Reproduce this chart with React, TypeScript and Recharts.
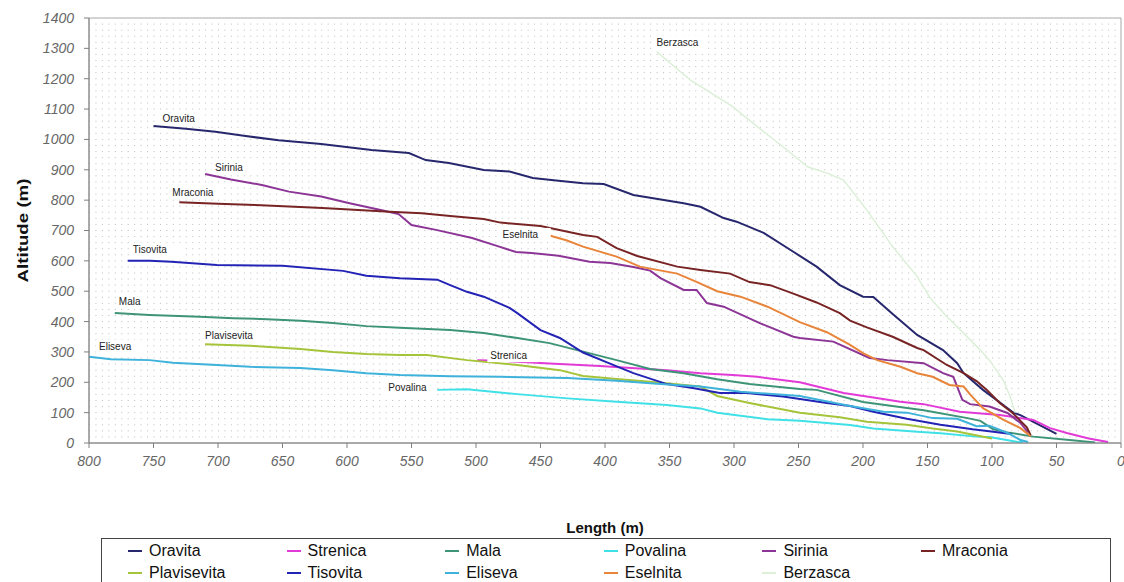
import React from 'react';
import { LineChart, Line, XAxis, YAxis, CartesianGrid, Legend, LabelList, ReferenceArea, Label } from 'recharts';

// ---- Data (length in m, altitude in m) ----
const oravita: [number, number][] = [[750,1044],[725,1035],[702,1025],[680,1012],[653,997],[620,985],[581,965],[552,955],[539,932],[521,922],[494,899],[474,894],[456,873],[436,864],[417,856],[401,853],[378,817],[339,790],[326,778],[308,741],[298,729],[277,692],[254,630],[236,581],[218,520],[200,482],[192,481],[177,425],[158,356],[138,306],[127,263],[122,230],[107,175],[83,99],[78,92],[50,30]];
const strenica: [number, number][] = [[499,273],[481,271],[443,262],[404,254],[352,240],[326,230],[301,224],[282,218],[249,200],[215,165],[192,150],[171,136],[153,128],[125,103],[94,92],[68,76],[55,49],[42,33],[25,15],[10,3]];
const mala: [number, number][] = [[780,428],[753,422],[714,416],[688,411],[662,408],[636,403],[611,395],[585,385],[559,380],[520,372],[494,362],[468,346],[443,329],[417,301],[391,273],[365,244],[339,230],[313,210],[288,194],[249,178],[236,175],[200,135],[153,108],[119,82],[109,73],[99,45],[88,35],[68,21],[40,10],[20,2]];
const povalina: [number, number][] = [[530,175],[507,177],[468,161],[429,147],[391,136],[352,125],[326,114],[313,100],[274,78],[249,73],[210,59],[192,48],[158,37],[140,32],[112,21],[102,20],[81,4],[76,3]];
const sirinia: [number, number][] = [[710,886],[690,868],[666,850],[645,828],[620,812],[598,790],[573,767],[560,754],[550,718],[531,702],[503,675],[482,647],[469,629],[457,626],[436,617],[412,597],[396,593],[378,580],[365,568],[357,543],[339,504],[329,504],[321,461],[308,449],[280,395],[254,350],[249,346],[223,334],[195,280],[181,273],[153,263],[138,230],[130,218],[127,186],[123,142],[117,128],[102,120],[88,99],[78,66],[72,35]];
const mraconia: [number, number][] = [[730,793],[700,788],[671,784],[619,774],[567,762],[542,757],[520,748],[494,738],[481,726],[450,715],[417,685],[406,679],[391,642],[375,616],[344,581],[326,570],[303,558],[288,530],[272,520],[254,492],[236,463],[218,428],[210,403],[197,381],[177,350],[158,313],[153,306],[135,257],[122,230],[112,204],[104,175],[94,132],[84,99],[73,52],[70,25]];
const plavisevita: [number, number][] = [[710,325],[675,320],[636,310],[611,300],[585,293],[559,290],[538,290],[507,273],[468,257],[435,240],[417,221],[391,211],[365,202],[326,186],[313,155],[288,132],[274,120],[249,100],[218,85],[197,70],[166,60],[146,48],[127,38],[100,15]];
const tisovita: [number, number][] = [[770,600],[753,600],[736,597],[701,586],[650,584],[603,567],[585,551],[559,543],[530,538],[520,520],[507,498],[494,482],[474,445],[468,428],[450,372],[435,346],[417,298],[398,265],[378,230],[352,194],[332,181],[311,165],[290,165],[262,153],[228,132],[210,122],[192,103],[166,80],[140,60],[115,45],[99,37],[85,30]];
const eliseva: [number, number][] = [[800,284],[783,276],[753,273],[735,264],[701,257],[675,251],[636,247],[611,240],[585,230],[559,224],[520,220],[481,218],[429,214],[391,205],[357,194],[326,186],[295,169],[249,155],[210,122],[184,103],[166,100],[146,82],[127,80],[112,55],[102,57],[88,33],[78,10],[72,3]];
const eselnita: [number, number][] = [[450,692],[430,668],[417,647],[391,614],[373,581],[344,558],[329,531],[313,500],[295,482],[274,449],[249,398],[228,365],[210,323],[200,296],[189,273],[171,251],[158,230],[146,218],[133,191],[122,186],[117,160],[107,115],[91,76],[78,49],[70,22]];
const berzasca: [number, number][] = [[360,1289],[334,1196],[301,1108],[282,1042],[262,976],[243,910],[228,889],[215,866],[197,767],[177,647],[158,548],[148,478],[135,416],[122,362],[109,306],[102,273],[91,205],[86,153],[82,100]];

const xTicks = [0, 50, 100, 150, 200, 250, 300, 350, 400, 450, 500, 550, 600, 650, 700, 750, 800];
const yTicks = [0, 100, 200, 300, 400, 500, 600, 700, 800, 900, 1000, 1100, 1200, 1300, 1400];
const minorGrid = Array.from({ length: 69 }, (_, i) => (i + 1) * 20);

type Series = { name: string; color: string; width: number; pts: [number, number][]; dx: number; dy: number };

const series: Series[] = [
  { name: 'Oravita', color: '#27276e', width: 2, pts: oravita, dx: 9, dy: -8 },
  { name: 'Strenica', color: '#e23ad6', width: 2, pts: strenica, dx: 13, dy: -5 },
  { name: 'Mala', color: '#3e9477', width: 2, pts: mala, dx: 4, dy: -12 },
  { name: 'Povalina', color: '#3fe0e6', width: 2, pts: povalina, dx: -49, dy: -2 },
  { name: 'Sirinia', color: '#8c3596', width: 2, pts: sirinia, dx: 10, dy: -7 },
  { name: 'Mraconia', color: '#782424', width: 2, pts: mraconia, dx: -7, dy: -10 },
  { name: 'Plavisevita', color: '#a6c43a', width: 2, pts: plavisevita, dx: 0, dy: -9 },
  { name: 'Tisovita', color: '#2323b5', width: 2, pts: tisovita, dx: 5, dy: -11 },
  { name: 'Eliseva', color: '#3eb2da', width: 2, pts: eliseva, dx: 10, dy: -10 },
  { name: 'Eselnita', color: '#e8853a', width: 2, pts: eselnita, dx: -38, dy: 2 },
  { name: 'Berzasca', color: '#dcf0d8', width: 1.5, pts: berzasca, dx: 0, dy: -9 },
];

const FONT = '"Liberation Sans", Arial, sans-serif';

const makeLabel = (s: Series) => (props: any) => {
  if (props.index !== 0) return null;
  const tx = Number(props.x) + s.dx;
  const ty = Number(props.y) + s.dy;
  const w = s.name.length * 5.4;
  return (
    <g>
      <rect x={tx - 3} y={ty - 7} width={w + 8} height={14} fill="#ffffff" />
      <text x={tx} y={ty} dominantBaseline="central" fontSize={10} fontFamily={FONT} fill="#222">
        {s.name}
      </text>
    </g>
  );
};

const renderXLabel = (props: any) => {
  const vb = props.viewBox || {};
  return (
    <text x={vb.x + vb.width / 2} y={vb.y + 84} textAnchor="middle" dominantBaseline="central"
      fontSize={15} fontWeight="bold" fontFamily={FONT} fill="#111">
      Length (m)
    </text>
  );
};

const renderYLabel = (props: any) => {
  const vb = props.viewBox || {};
  const cx = vb.x - 7;
  const cy = vb.y + vb.height / 2;
  return (
    <text transform={`translate(${cx},${cy}) rotate(-90)`} textAnchor="middle" dominantBaseline="central"
      fontSize={15} fontWeight="bold" fontFamily={FONT} fill="#111" textLength={104} lengthAdjust="spacingAndGlyphs">
      Altitude (m)
    </text>
  );
};

const renderLegend = () => (
  <div style={{ position: 'relative', width: 1010, height: 48, border: '1px solid #444', boxSizing: 'border-box', background: '#fff', fontFamily: FONT }}>
    {series.map((s, i) => {
      const col = i % 6;
      const row = Math.floor(i / 6);
      return (
        <div key={s.name} style={{ position: 'absolute', left: 26 + col * 158.6, top: 3 + row * 22, height: 18, display: 'flex', alignItems: 'center' }}>
          <span style={{ display: 'inline-block', width: 14, height: 2, background: s.color, marginRight: 7 }} />
          <span style={{ fontSize: 16, color: '#111', whiteSpace: 'nowrap' }}>{s.name}</span>
        </div>
      );
    })}
  </div>
);

const tickStyle = { fontSize: 14, fontStyle: 'italic', fill: '#666666', fontFamily: FONT };

export default function App() {
  return (
    <div style={{ position: 'absolute', left: 0, top: 0, width: 1124, height: 582, background: '#fff' }}>
      <LineChart width={1124} height={582} margin={{ top: 18, right: 3, bottom: 109, left: 29 }}>
        <CartesianGrid horizontalValues={minorGrid} vertical={false} stroke="#bcbcbc" strokeDasharray="1 5.45" />
        <ReferenceArea x1={0} x2={800} y1={0} y2={1400} fill="none" stroke="#a8a8a8" ifOverflow="visible" />
        <XAxis type="number" dataKey="x" domain={[0, 800]} reversed ticks={xTicks} interval={0}
          tick={tickStyle} tickSize={5} tickMargin={8} stroke="#808080" height={30}
          label={<Label content={renderXLabel} />} allowDataOverflow />
        <YAxis type="number" dataKey="y" domain={[0, 1400]} ticks={yTicks} interval={0}
          tick={tickStyle} tickSize={5} tickMargin={10} stroke="#808080" width={60}
          label={<Label content={renderYLabel} />} allowDataOverflow />
        {series.map((s) => (
          <Line key={s.name} name={s.name} data={s.pts.map(([x, y]) => ({ x, y }))} dataKey="y"
            stroke={s.color} strokeWidth={s.width} dot={false} activeDot={false} type="linear"
            isAnimationActive={false}>
            <LabelList dataKey="y" content={makeLabel(s)} />
          </Line>
        ))}
        <Legend layout="horizontal" verticalAlign="middle" align="center" content={renderLegend}
          wrapperStyle={{ left: 101, top: 538, width: 1010, height: 48 }} />
      </LineChart>
    </div>
  );
}
